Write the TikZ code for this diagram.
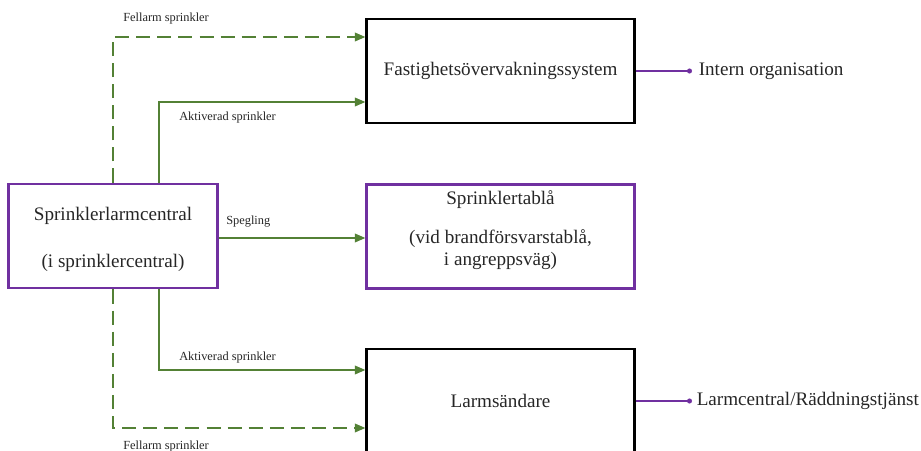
\documentclass[tikz,border=0pt]{standalone}
\usepackage{fontspec}
\setmainfont{Liberation Serif}
\usetikzlibrary{arrows.meta,calc}
\definecolor{arrowgreen}{HTML}{538135}
\definecolor{boxpurple}{HTML}{7030A0}
\definecolor{textgray}{HTML}{262626}
\tikzset{
  mainbox/.style={draw=black,line width=2.1pt,minimum width=6.675cm,minimum height=2.6cm,inner sep=0pt},
  purplebox/.style={mainbox,draw=boxpurple},
  maintext/.style={text=textgray,font=\fontsize{13.6}{15.6}\selectfont,align=center},
  smalllabel/.style={text=textgray,font=\fontsize{8.8}{10}\selectfont,inner sep=0pt,anchor=west},
  aktiverad/.style={draw=arrowgreen,line width=1.4pt,-{Triangle[length=7.5pt,width=6pt]}},
  fellarm/.style={aktiverad,dash pattern=on 10pt off 5pt},
  utgang/.style={draw=boxpurple,line width=1.4pt},
}
\begin{document}
\begin{tikzpicture}[x=0.025cm,y=-0.025cm]
    \useasboundingbox (0,0) rectangle (921,451);

    % boxes
    \node[purplebox,minimum width=5.2cm] (larmcentral) at (113,236) {};
    \node[maintext] (larmcentraltext) at ($(larmcentral.center)+(0,3)$) {Sprinklerlarmcentral\\[17.7pt](i sprinklercentral)};
    \node[mainbox,maintext] (fastighet) at (500.5,71) {Fastighetsövervakningssystem};
    \node[purplebox] (tabla) at (500.5,236.5) {};
    \node[maintext] (tablatext) at ($(tabla.center)+(0,-6.5)$) {Sprinklertablå\\[12pt](vid brandförsvarstablå,\\i angreppsväg)};
    \node[mainbox,maintext] (larmsandare) at (500.5,401) {Larmsändare};

    % signals
    \draw[fellarm] (larmcentral.north) |- ($(fastighet.west)+(0,-34)$);
    \draw[aktiverad] ($(larmcentral.north)+(46,0)$) |- ($(fastighet.west)+(0,31)$);
    \draw[aktiverad] ($(larmcentral.east)+(0,2)$) -- ($(larmcentral.east -| tabla.west)+(0,2)$);
    \draw[aktiverad] ($(larmcentral.south)+(46,0)$) |- ($(larmsandare.west)+(0,-31)$);
    \draw[fellarm] (larmcentral.south) |- ($(larmsandare.west)+(0,27)$);

    \node[smalllabel] (fellarmtop) at (123,19) {Fellarm sprinkler};
    \node[smalllabel] (aktivtop) at (179,118) {Aktiverad sprinkler};
    \node[smalllabel] (spegling) at (226,222) {Spegling};
    \node[smalllabel] (aktivbottom) at (179,358) {Aktiverad sprinkler};
    \node[smalllabel] (fellarmbottom) at (123,447) {Fellarm sprinkler};

    % outputs
    \coordinate (interndot) at ($(fastighet.east)+(54,0)$);
    \draw[utgang] (fastighet.east) -- (interndot);
    \fill[boxpurple] (interndot) circle (1.8pt);
    \node[maintext,anchor=base west,inner sep=0pt] (intern) at ($(interndot)+(9,5)$) {Intern organisation};

    \coordinate (raddningdot) at ($(larmsandare.east)+(54,0)$);
    \draw[utgang] (larmsandare.east) -- (raddningdot);
    \fill[boxpurple] (raddningdot) circle (1.8pt);
    \node[maintext,anchor=base west,inner sep=0pt] (raddning) at ($(raddningdot)+(7,5)$) {Larmcentral/Räddningstjänst};
\end{tikzpicture}
\end{document}
